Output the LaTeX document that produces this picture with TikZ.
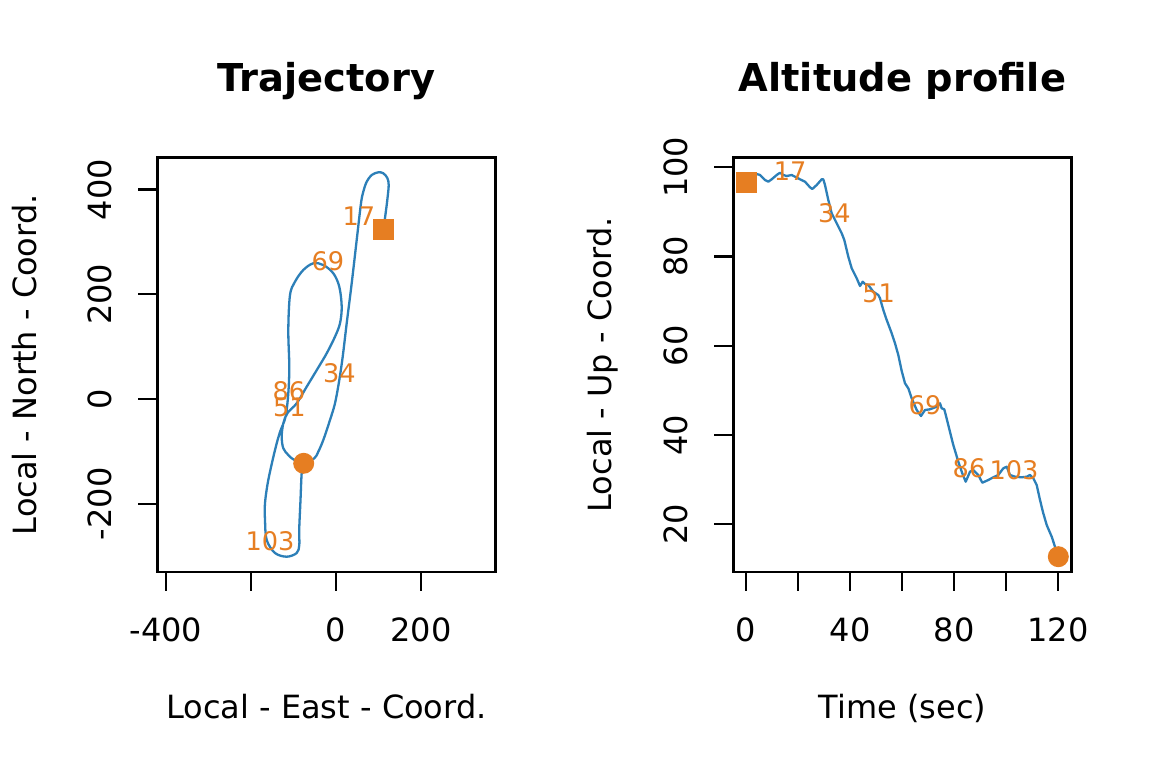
\documentclass[tikz,border=0pt]{standalone}
\usepackage{fontspec}
\setmainfont{DejaVu Sans}
\definecolor{pblue}{RGB}{44,127,184}
\definecolor{porange}{RGB}{230,126,34}
\newcommand{\mytitlefont}{\fontsize{38.4}{46}\selectfont\bfseries}
\newcommand{\myaxfont}{\fontsize{32}{38}\selectfont}
\newcommand{\mylblfont}{\fontsize{25.6}{30}\selectfont}
\tikzset{
  frame/.style={draw=black, line width=2.2pt},
  ticklines/.style={draw=black, line width=2.2pt},
  trace/.style={draw=pblue, line width=2.3pt, line join=round, line cap=round},
  marker/.style={fill=porange, draw=none},
  ptitle/.style={font=\mytitlefont, inner sep=0pt, anchor=base},
  axlab/.style={font=\myaxfont, inner sep=0pt, anchor=base},
  yaxlab/.style={font=\myaxfont, inner sep=0pt, anchor=base, rotate=90},
  idx/.style={font=\mylblfont, text=porange, inner sep=0pt, anchor=center},
}
\begin{document}
\begin{tikzpicture}[x=1pt,y=-1pt]
\useasboundingbox (0,0) rectangle (1152,768);
\fill[white] (0,0) rectangle (1152,768);

% ===================== Left panel: Trajectory =====================
\draw[trace] plot[smooth, tension=0.55] coordinates {
 (383.5,229.5) (385,218) (387.3,200) (388.7,185) (387.3,178) (383.3,173.3)
 (378.3,172.3) (371.7,175) (366.7,181.7) (363.3,191.7) (361,203.3)
 (356.7,240) (351.7,283.3) (346.7,323.3) (342.7,356.7) (339.3,380)
 (335,403.3) (330,420) (323.3,440) (318.3,451.7) (314.3,458.3)
 (303.7,463) (293.3,459.3) (288.3,455) (283.3,448.3) (281.7,436.7)
 (283.3,423.3) (287.5,413) (296.7,403.3) (306.7,386.7) (318,368)
 (326.7,353.3) (335,336.7) (340,323.3) (341.7,306.7) (339.3,286.7)
 (333.3,273.3) (323.3,265) (313.3,263.3) (303.3,270) (295,281.7)
 (290,295) (288.3,330) (289.3,366.7) (288.3,393.3) (285.5,417)
 (280,432) (275,450) (268.3,480) (265,503) (265,520) (266.7,540)
 (275,553) (286.7,556.7) (296.7,553) (299.3,545) (299.2,530)
 (300.5,500) (301.7,473) (303.7,463)
};
\fill[marker] (373,219) rectangle (394,240);
\fill[marker] (303.7,463.3) circle[radius=10.5pt];

\node[idx] (l17) at (358.8,216) {17};
\node[idx] (l34) at (339.5,373.5) {34};
\node[idx] (l51) at (289.5,407) {51};
\node[idx] (l69) at (328,261.5) {69};
\node[idx] (l86) at (289,391) {86};
\node[idx] (l103) at (270,541.5) {103};

\draw[frame] (157.4,157.4) rectangle (495.4,572.2);
\foreach \xx in {166,251,336,421} \draw[ticklines] (\xx,572.2) -- (\xx,591.4);
\foreach \yy in {189.5,294.3,399,503.8} \draw[ticklines] (157.4,\yy) -- (138.2,\yy);
\node[axlab] (lx1) at (166,641.3) {-400};
\node[axlab] (lx2) at (336,641.3) {0};
\node[axlab] (lx3) at (421,641.3) {200};
\node[yaxlab] (ly1) at (111,189.5) {400};
\node[yaxlab] (ly2) at (111,294.3) {200};
\node[yaxlab] (ly3) at (111,399) {0};
\node[yaxlab] (ly4) at (111,503.8) {-200};
\node[ptitle] (ltitle) at (326.4,92) {Trajectory};
\node[axlab] (lxlab) at (326.4,718) {Local - East - Coord.};
\node[yaxlab] (lylab) at (36,364.8) {Local - North - Coord.};

% ===================== Right panel: Altitude profile =====================
\draw[trace] plot coordinates {
 (746,182) (752,176) (756.7,174) (760,175) (765,180) (768.3,181.7) (771.7,179.3)
 (776.7,175) (780,172.7) (783.3,175) (786.7,176) (791.7,175) (795,176.7)
 (800,179.3) (805,181.7) (810,187.3) (812.3,189) (816.7,185) (821.7,179.3)
 (823.3,179.3) (825,185) (828.3,200) (831.7,213.3) (836.7,223.3)
 (841.7,233.3) (844.3,240) (848.3,256.7) (851.7,268.3) (856.7,278.3)
 (860,286) (862.7,281.7) (865,284) (868.3,285) (873.3,291.7) (878.3,295)
 (880,298.3) (883.3,310) (886.7,320) (891.7,333.3) (895,343.3) (898.3,355)
 (901.7,371) (905,383.3) (908.3,388.3) (911.7,398.3) (916.7,410) (921,416)
 (925,410) (930,409.3) (936.7,406.7) (940,403.3) (941.7,408.3) (944.3,409.3)
 (948.3,425) (953.3,445) (958.3,461.7) (962.3,473.3) (965.7,481.7)
 (970,471.7) (973.3,470) (978.3,475) (982.3,482.7) (988.3,480) (993.3,477.3)
 (998.3,475) (1003.3,468.3) (1006.7,466.7) (1010,475) (1015,476.7)
 (1021.7,477.3) (1026.7,476.7) (1030,475) (1033.3,478.3) (1036.7,485)
 (1040,500) (1043.3,513.3) (1046.7,525) (1051.7,536.7) (1055,546.7)
 (1058.3,556.7)
};
\fill[marker] (735.5,171.5) rectangle (756.5,192.5);
\fill[marker] (1058.3,556.7) circle[radius=10.5pt];

\node[idx] (r17) at (790.2,171) {17};
\node[idx] (r34) at (834.4,213) {34};
\node[idx] (r51) at (878.6,293) {51};
\node[idx] (r69) at (925,405) {69};
\node[idx] (r86) at (969,468) {86};
\node[idx] (r103) at (1014,470) {103};

\draw[frame] (733.4,157.4) rectangle (1071.4,572.2);
\foreach \xx in {746,798,850,902,954,1006,1058} \draw[ticklines] (\xx,572.2) -- (\xx,591.4);
\foreach \yy in {524.3,435.05,345.8,256.55,167.3} \draw[ticklines] (733.4,\yy) -- (714.2,\yy);
\node[axlab] (rx1) at (746,641.3) {0};
\node[axlab] (rx2) at (850,641.3) {40};
\node[axlab] (rx3) at (954,641.3) {80};
\node[axlab] (rx4) at (1058,641.3) {120};
\node[yaxlab] (ry1) at (687.3,524.3) {20};
\node[yaxlab] (ry2) at (687.3,435.05) {40};
\node[yaxlab] (ry3) at (687.3,345.8) {60};
\node[yaxlab] (ry4) at (687.3,256.55) {80};
\node[yaxlab] (ry5) at (687.3,167.3) {100};
\node[ptitle] (rtitle) at (902.4,92) {Altitude profile};
\node[axlab] (rxlab) at (902.4,718) {Time (sec)};
\node[yaxlab] (rylab) at (611,364.8) {Local - Up - Coord.};
\end{tikzpicture}
\end{document}
